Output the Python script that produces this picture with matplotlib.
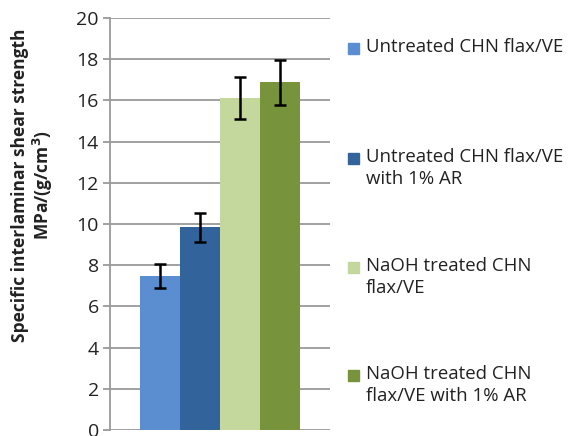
import matplotlib
matplotlib.use('Agg')
import matplotlib.pyplot as plt
from matplotlib.patches import Rectangle

labels = ['Untreated CHN flax/VE',
          'Untreated CHN flax/VE\nwith 1% AR',
          'NaOH treated CHN\nflax/VE',
          'NaOH treated CHN\nflax/VE with 1% AR']
values = [7.47, 9.84, 16.13, 16.87]
errors = [0.6, 0.7, 1.02, 1.07]
colors = ['#5A8ED0', '#33639B', '#C4D79D', '#77933C']
yticks = [0, 2, 4, 6, 8, 10, 12, 14, 16, 18, 20]

plt.rcParams['font.family'] = ['Open Sans', 'DejaVu Sans']
W, H = 568, 436
fig = plt.figure(figsize=(W / 100, H / 100), dpi=100)
ax = fig.add_axes([110 / W, 6 / H, 220 / W, 412 / H])

x = list(range(len(values)))
ax.bar(x, values, width=1.0, color=colors, zorder=2)
ax.errorbar(x, values, yerr=errors, fmt='none', ecolor='black',
            elinewidth=1.8, capsize=4, capthick=1.8, zorder=3)

ax.set_xlim(-1.233, 4.233)
ax.set_ylim(0, 20)
ax.set_yticks(yticks)
ax.set_xticks([])
ax.yaxis.grid(True, color='#9A9A9A', linewidth=1.3, zorder=1)
ax.set_axisbelow(True)
for s in ['top', 'right', 'bottom']:
    ax.spines[s].set_visible(False)
ax.spines['left'].set_color('#9A9A9A')
ax.spines['left'].set_linewidth(1.3)
ax.tick_params(axis='y', direction='out', length=5, width=1.3,
               color='#9A9A9A', labelsize=14, labelcolor='#222222', pad=3)

fig.text(33 / W, 1 - 185 / H,
         'Specific interlaminar shear strength\nMPa/(g/cm$^{\\mathbf{3}}$)',
         rotation=90, ha='center', va='center', multialignment='center',
         fontsize=12.5, fontweight='bold', color='#222222', linespacing=1.15)

# legend drawn by hand to match the spacing of the original
leg_y = [48, 158, 267, 375]
for lab, c, yy in zip(labels, colors, leg_y):
    fig.add_artist(Rectangle((348 / W, 1 - (yy + 6) / H), 11 / W, 11 / H,
                             transform=fig.transFigure, color=c))
    fig.text(366 / W, 1 - (yy - 10) / H, lab, ha='left', va='top',
             fontsize=13.4, color='#222222', linespacing=1.3)

fig.savefig('out.png', dpi=100)
